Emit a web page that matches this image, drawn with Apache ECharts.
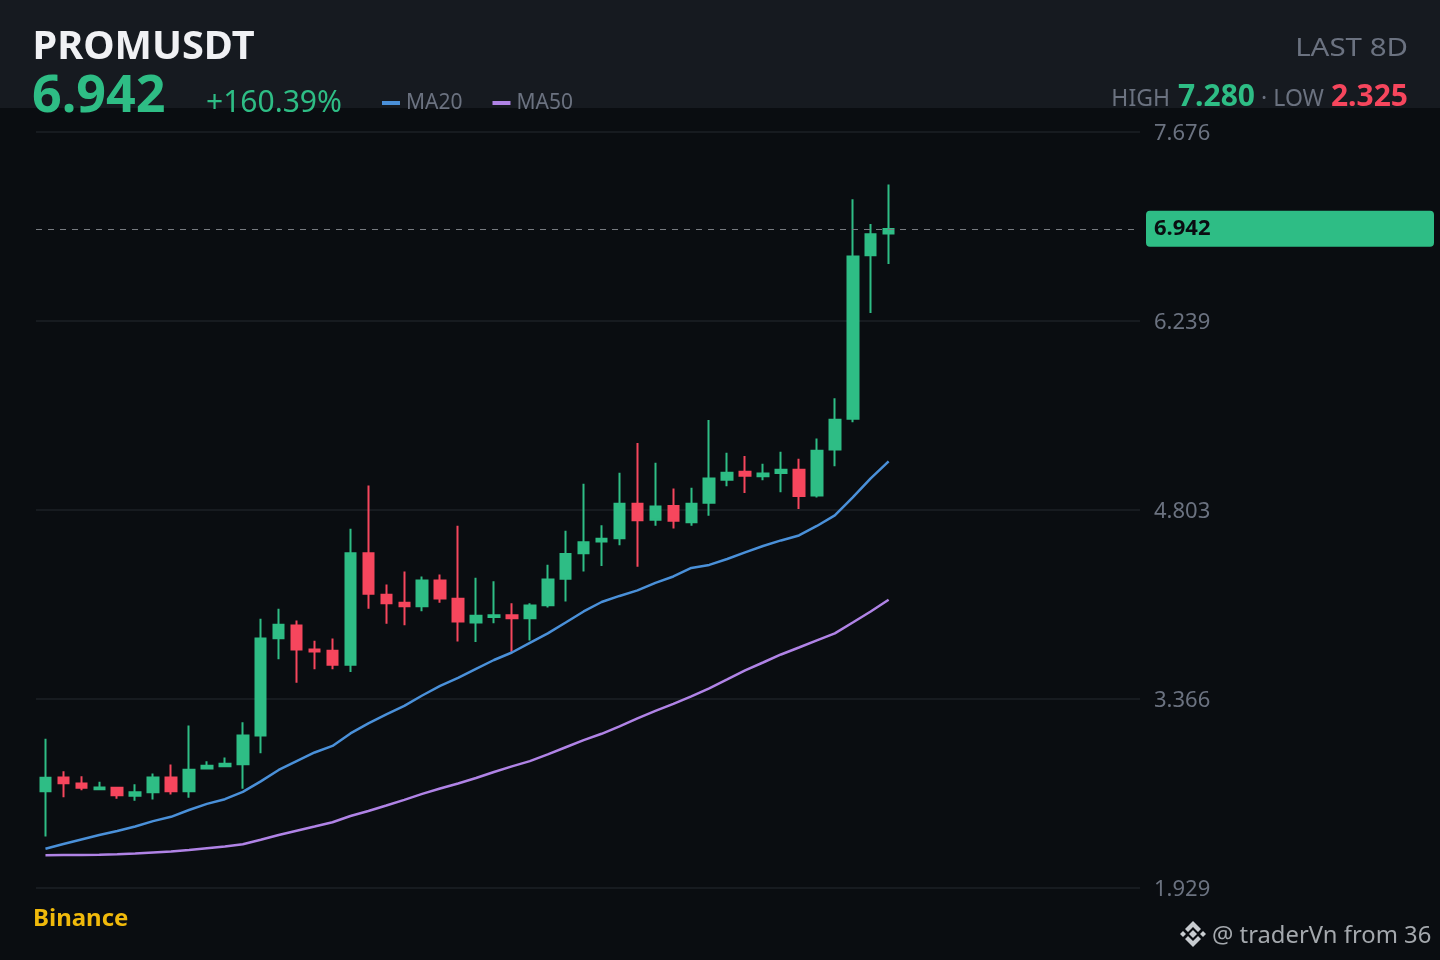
<!DOCTYPE html>
<html>
<head>
<meta charset="utf-8">
<style>html,body{margin:0;padding:0;background:#0a0d11}#c{width:1440px;height:960px}</style>
<script src="https://cdn.jsdelivr.net/npm/echarts@6/dist/echarts.min.js"></script>
</head>
<body>
<div id="c"></div>
<script>
const categories = Array.from({length:48},(_,i)=>'C'+(i+1));
const openValues = [2.669,2.773,2.728,2.684,2.695,2.634,2.661,2.773,2.669,2.841,2.859,2.874,3.092,3.832,3.929,3.746,3.736,3.630,4.478,4.162,4.101,4.075,4.271,4.132,3.951,3.992,4.007,3.984,4.083,4.284,4.478,4.567,4.592,4.854,4.732,4.836,4.714,4.862,5.036,5.097,5.062,5.087,5.113,4.917,5.267,5.500,6.742,6.909];
const closeValues = [2.771,2.730,2.695,2.697,2.638,2.661,2.773,2.669,2.832,2.862,2.877,3.092,3.830,3.934,3.746,3.731,3.630,4.478,4.170,4.098,4.075,4.271,4.134,3.959,4.002,4.007,3.984,4.081,4.278,4.471,4.562,4.588,4.854,4.729,4.833,4.725,4.854,5.046,5.090,5.067,5.084,5.113,4.912,5.257,5.493,6.734,6.902,6.942];
const lowValues = [2.325,2.623,2.676,2.682,2.611,2.596,2.606,2.644,2.619,2.836,2.851,2.687,2.958,3.672,3.493,3.596,3.596,3.574,4.056,3.942,3.931,4.037,4.101,3.807,3.802,3.946,3.729,3.815,4.066,4.111,4.339,4.380,4.539,4.375,4.687,4.666,4.687,4.763,4.986,4.935,5.033,4.942,4.813,4.902,5.138,5.474,6.303,6.676];
const highValues = [3.067,2.821,2.783,2.740,2.697,2.722,2.803,2.872,3.168,2.897,2.925,3.193,3.980,4.056,3.967,3.812,3.830,4.664,4.993,4.240,4.339,4.301,4.316,4.687,4.291,4.265,4.098,4.098,4.390,4.649,5.006,4.691,5.090,5.315,5.166,4.970,4.976,5.490,5.242,5.216,5.158,5.249,5.196,5.350,5.655,7.168,6.980,7.280];
const ma20 = [2.231,2.267,2.302,2.336,2.366,2.400,2.441,2.474,2.526,2.572,2.608,2.663,2.743,2.830,2.898,2.963,3.013,3.108,3.184,3.252,3.317,3.396,3.469,3.530,3.598,3.666,3.723,3.796,3.868,3.951,4.035,4.107,4.153,4.195,4.252,4.301,4.366,4.389,4.434,4.484,4.533,4.575,4.613,4.685,4.765,4.902,5.046,5.176];
const ma50 = [2.182,2.183,2.184,2.185,2.189,2.195,2.203,2.210,2.222,2.235,2.248,2.266,2.299,2.336,2.368,2.400,2.433,2.480,2.518,2.560,2.603,2.648,2.689,2.727,2.769,2.815,2.857,2.897,2.948,3.003,3.057,3.105,3.161,3.222,3.279,3.332,3.389,3.450,3.518,3.587,3.647,3.708,3.761,3.815,3.868,3.951,4.035,4.124];
const tickLabels = ['1.929','3.366','4.803','6.239','7.676'];
const axisMin = 1.929, axisMax = 7.676;
const lastPrice = 6.942;

const GREEN='#2ebd85', RED='#f6465d', BLUE='#4a90d9', PURPLE='#b083e6';
const FONT='"Noto Sans"';
const candleData = categories.map((_,i)=>[openValues[i],closeValues[i],lowValues[i],highValues[i]]);

function txt(x,y,text,size,color,weight,align,sx){
  return {type:'text',x:x,y:y,z:10,silent:true,scaleX:sx||1,style:{text:text,fontFamily:FONT,fontSize:size,fill:color,fontWeight:weight||'normal',textAlign:align||'left',textVerticalAlign:'middle'}};
}
function poly(pts){return {type:'polygon',z:10,silent:true,shape:{points:pts},style:{fill:'#c8ccd0'}};}
const lx=1193, ly=934;
const logo=[
  poly([[lx,ly-4],[lx+4,ly],[lx,ly+4],[lx-4,ly]]),
  poly([[lx-13,ly],[lx-10,ly-3],[lx-7,ly],[lx-10,ly+3]]),
  poly([[lx+13,ly],[lx+10,ly-3],[lx+7,ly],[lx+10,ly+3]]),
  poly([[lx,ly-13],[lx+8,ly-5],[lx+5,ly-2],[lx,ly-7],[lx-5,ly-2],[lx-8,ly-5]]),
  poly([[lx,ly+13],[lx+8,ly+5],[lx+5,ly+2],[lx,ly+7],[lx-5,ly+2],[lx-8,ly+5]])
];

const chart = echarts.init(document.getElementById('c'),null,{renderer:'canvas',width:1440,height:960});
chart.setOption({
  animation:false,
  backgroundColor:'#0a0d11',
  textStyle:{fontFamily:FONT},
  graphic:[
    {type:'rect',z:-1,silent:true,shape:{x:0,y:0,width:1440,height:108},style:{fill:'#161a20'}},
    txt(32.5,47.5,'PROMUSDT',39.7,'#f0f1f4','bold'),
    txt(32,97,'6.942',52,GREEN,'bold'),
    txt(206,103,'+160.39%',30,GREEN),
    txt(1408,49,'LAST 8D',26,'#6b7280','normal','right',1.133),
    txt(1408,97,'2.325',30,RED,'bold','right'),
    txt(1324,99.5,'LOW',23,'#6b7280','normal','right'),
    txt(1264,99.5,'·',23,'#6b7280','normal','center'),
    txt(1255,97,'7.280',30,GREEN,'bold','right'),
    txt(1170,99.5,'HIGH',23,'#6b7280','normal','right'),
    txt(33,919,'Binance',24,'#f0b90b','bold'),
    txt(1212,936,'@ traderVn from 36',23.8,'#a4a8ad')
  ].concat(logo),
  legend:{
    left:382,top:92.5,padding:0,itemWidth:18,itemHeight:4,itemGap:30,icon:'rect',
    data:['MA20','MA50'],selectedMode:false,
    textStyle:{color:'#6b7280',fontSize:21,fontFamily:FONT,padding:[0,0,0,1]}
  },
  grid:[
    {left:36,top:132,width:1104,height:756},
    {left:36.5,top:132.5,width:861.1,height:756}
  ],
  xAxis:[
    {type:'value',gridIndex:0,min:0,max:1,show:false},
    {type:'category',gridIndex:1,data:categories,show:false,boundaryGap:true}
  ],
  yAxis:[
    {type:'value',gridIndex:0,min:axisMin,max:axisMax,interval:(axisMax-axisMin)/4,position:'right',
      axisLine:{show:false},axisTick:{show:false},
      splitLine:{show:true,lineStyle:{color:'#171b20',width:2}},
      axisLabel:{margin:14,color:'#6b7280',fontSize:22,fontFamily:FONT,align:'left',
        rich:{t:{color:'#6b7280',fontSize:22,fontFamily:FONT,padding:[4,0,0,0]}},
        formatter:(v)=>'{t|'+tickLabels[Math.round((v-axisMin)/((axisMax-axisMin)/4))]+'}'}},
    {type:'value',gridIndex:1,min:axisMin,max:axisMax,show:false,splitLine:{show:false}}
  ],
  series:[
    {type:'line',xAxisIndex:0,yAxisIndex:0,data:[],silent:true,z:1,
      markLine:{silent:true,symbol:'none',animation:false,
        lineStyle:{color:'#777b80',type:[6,6],width:1},
        label:{position:'end',distance:6,formatter:()=>lastPrice.toFixed(3),color:'#0a0d11',fontSize:22,fontWeight:'bold',fontFamily:FONT,
          backgroundColor:GREEN,borderRadius:4,padding:[9,8,5,8],width:272,align:'left'},
        data:[{yAxis:lastPrice}]}},
    {name:'PROMUSDT',type:'candlestick',xAxisIndex:1,yAxisIndex:1,data:candleData,barWidth:11,z:3,
      itemStyle:{color:GREEN,color0:RED,borderColor:GREEN,borderColor0:RED,borderWidth:2}},
    {name:'MA20',type:'line',xAxisIndex:1,yAxisIndex:1,data:ma20,showSymbol:false,z:4,
      lineStyle:{color:BLUE,width:2.5},itemStyle:{color:BLUE}},
    {name:'MA50',type:'line',xAxisIndex:1,yAxisIndex:1,data:ma50,showSymbol:false,z:4,
      lineStyle:{color:PURPLE,width:2.5},itemStyle:{color:PURPLE}}
  ]
});
</script>
</body>
</html>
